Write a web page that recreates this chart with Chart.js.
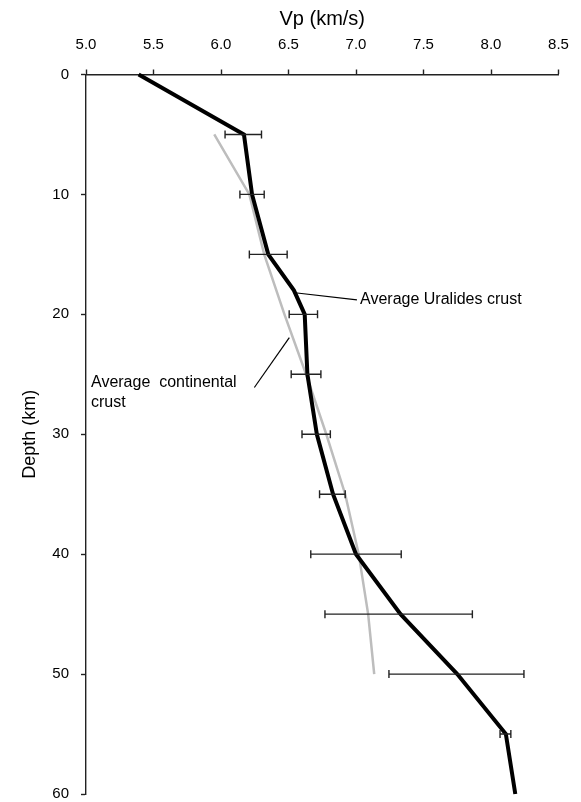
<!DOCTYPE html>
<html>
<head>
<meta charset="utf-8">
<script src="https://cdn.jsdelivr.net/npm/chart.js@4.4.0/dist/chart.umd.min.js"></script>
<style>
  body { margin: 0; background: #fff; }
  #wrap { width: 581px; height: 802px; position: relative; }
</style>
</head>
<body>
<div id="wrap"><canvas id="chart"></canvas></div>
<script>
// Uralides crust velocity profile (black)
const uralDepth = [0, 5, 10, 15, 18, 20, 25, 30, 35, 40, 45, 50, 55, 60];
const uralVp = [5.39, 6.17, 6.23, 6.35, 6.54, 6.62, 6.64, 6.71, 6.83, 7.0, 7.33, 7.75, 8.11, 8.18];

// Average continental crust (grey)
const contDepth = [5, 10, 15, 20, 25, 30, 35, 40, 45, 50];
const contVp = [5.95, 6.21, 6.32, 6.47, 6.63, 6.78, 6.92, 7.02, 7.09, 7.135];

// horizontal error bars on the Uralides profile
const errDepth = [5, 10, 15, 20, 25, 30, 35, 40, 45, 50, 55];
const errVp = [6.165, 6.23, 6.35, 6.61, 6.63, 6.705, 6.825, 7.0, 7.316, 7.744, 8.107];
const errHalf = [0.135, 0.09, 0.14, 0.105, 0.11, 0.105, 0.095, 0.335, 0.546, 0.5, 0.04];

const vpTicks = [5.0, 5.5, 6.0, 6.5, 7.0, 7.5, 8.0, 8.5];
const depthTicks = [0, 10, 20, 30, 40, 50, 60];

const FONT = "'Liberation Sans', Arial, Helvetica, sans-serif";

const toPoints = (xs, ys) => xs.map((x, i) => ({ x: x, y: ys[i] }));

// error bars + labels, placed through the chart scales
const overlay = {
  id: 'overlay',
  afterDatasetsDraw(chart) {
    const { ctx, scales: { x, y } } = chart;
    ctx.save();
    ctx.strokeStyle = '#222';
    ctx.lineWidth = 1.4;
    errDepth.forEach((d, i) => {
      const py = y.getPixelForValue(d);
      const x0 = x.getPixelForValue(errVp[i] - errHalf[i]);
      const x1 = x.getPixelForValue(errVp[i] + errHalf[i]);
      ctx.beginPath();
      ctx.moveTo(x0, py); ctx.lineTo(x1, py);
      ctx.moveTo(x0, py - 4); ctx.lineTo(x0, py + 4);
      ctx.moveTo(x1, py - 4); ctx.lineTo(x1, py + 4);
      ctx.stroke();
    });

    // leader lines
    ctx.strokeStyle = '#000';
    ctx.lineWidth = 1.2;
    const leaders = [
      [6.548, 18.2, 7.007, 18.8],
      [6.247, 26.1, 6.506, 21.95]
    ];
    leaders.forEach(l => {
      ctx.beginPath();
      ctx.moveTo(x.getPixelForValue(l[0]), y.getPixelForValue(l[1]));
      ctx.lineTo(x.getPixelForValue(l[2]), y.getPixelForValue(l[3]));
      ctx.stroke();
    });

    ctx.fillStyle = '#000';
    ctx.font = '16px ' + FONT;
    ctx.textAlign = 'left';
    ctx.textBaseline = 'middle';
    ctx.fillText('Average Uralides crust', x.getPixelForValue(7.03), y.getPixelForValue(18.8));
    ctx.fillText('Average  continental', x.getPixelForValue(5.037), y.getPixelForValue(25.7));
    ctx.fillText('crust', x.getPixelForValue(5.037), y.getPixelForValue(27.4));
    ctx.restore();
  }
};

new Chart(document.getElementById('chart'), {
  type: 'scatter',
  data: {
    datasets: [
      {
        label: 'Average Uralides crust',
        data: toPoints(uralVp, uralDepth),
        showLine: true,
        borderColor: '#000',
        borderWidth: 4,
        pointRadius: 0,
        tension: 0,
        clip: false,
        order: 0
      },
      {
        label: 'Average continental crust',
        data: toPoints(contVp, contDepth),
        showLine: true,
        borderColor: '#bdbdbd',
        borderWidth: 2.5,
        pointRadius: 0,
        tension: 0,
        clip: false,
        order: 1
      }
    ]
  },
  options: {
    responsive: true,
    maintainAspectRatio: false,
    animation: false,
    layout: { padding: { top: 0, left: 0, right: 22.5, bottom: 8 } },
    plugins: {
      legend: { display: false },
      tooltip: { enabled: false }
    },
    scales: {
      x: {
        type: 'linear',
        position: 'top',
        min: 5,
        max: 8.5,
        afterBuildTicks: s => { s.ticks = vpTicks.map(v => ({ value: v })); },
        afterFit: s => { s.height = 74.5; s.paddingLeft = 0; s.paddingRight = 0; },
        ticks: {
          color: '#000',
          font: { family: FONT, size: 15 },
          padding: 16,
          callback: v => v.toFixed(1)
        },
        grid: {
          drawOnChartArea: false,
          drawTicks: true,
          tickLength: 5,
          tickColor: '#222',
          tickWidth: 1.4
        },
        border: { display: true, color: '#222', width: 1.4 },
        title: {
          display: true,
          text: 'Vp (km/s)',
          color: '#000',
          font: { family: FONT, size: 20 },
          padding: { top: 7, bottom: 0 }
        }
      },
      y: {
        type: 'linear',
        reverse: true,
        min: 0,
        max: 60,
        afterBuildTicks: s => { s.ticks = depthTicks.map(v => ({ value: v })); },
        afterFit: s => { s.width = 86; s.paddingTop = 0; s.paddingBottom = 0; },
        ticks: {
          color: '#000',
          font: { family: FONT, size: 15 },
          padding: 12
        },
        grid: {
          drawOnChartArea: false,
          drawTicks: true,
          tickLength: 5,
          tickColor: '#222',
          tickWidth: 1.4
        },
        border: { display: true, color: '#222', width: 1.4 },
        title: {
          display: true,
          text: 'Depth (km)',
          color: '#000',
          font: { family: FONT, size: 18 },
          padding: { top: 19, bottom: 0 }
        }
      }
    }
  },
  plugins: [overlay]
});
</script>
</body>
</html>
